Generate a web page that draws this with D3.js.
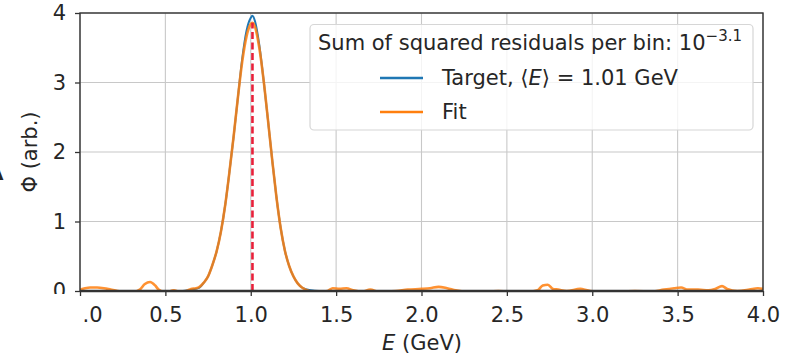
<!DOCTYPE html>
<html>
<head>
<meta charset="utf-8">
<script src="https://cdn.jsdelivr.net/npm/d3@7"></script>
<style>
  html, body { margin: 0; padding: 0; background: #fff; }
  svg { display: block; }
  text { font-family: "DejaVu Sans", sans-serif; fill: #262626; }
</style>
</head>
<body>
<svg id="chart" width="787" height="357"></svg>
<script>
// ---------------- data ----------------
const xTicks = [0, 0.5, 1.0, 1.5, 2.0, 2.5, 3.0, 3.5, 4.0];
const xTickLabels = [".0", "0.5", "1.0", "1.5", "2.0", "2.5", "3.0", "3.5", "4.0"];
const yTicks = [0, 1, 2, 3, 4];
const yTickLabels = ["0", "1", "2", "3", "4"];

const targetE = [0.00, 0.60, 0.65, 0.70, 0.725, 0.75, 0.775, 0.80, 0.825, 0.85, 0.875, 0.90, 0.925, 0.95, 0.975, 1.00, 1.01, 1.025, 1.05, 1.075, 1.10, 1.125, 1.15, 1.175, 1.20, 1.225, 1.25, 1.275, 1.30, 1.35, 1.40, 4.00];
const targetPhi = [0.00, 0.00, 0.02, 0.05, 0.12, 0.21, 0.37, 0.57, 0.85, 1.23, 1.71, 2.23, 2.79, 3.34, 3.74, 3.93, 3.96, 3.88, 3.54, 3.04, 2.48, 1.90, 1.36, 0.91, 0.58, 0.36, 0.21, 0.11, 0.05, 0.01, 0.00, 0.00];

const fitE = [0.00, 0.03, 0.06, 0.10, 0.14, 0.18, 0.22, 0.30, 0.35, 0.38, 0.41, 0.44, 0.46, 0.50, 0.55, 0.58, 0.62, 0.65, 0.68, 0.70, 0.725, 0.75, 0.775, 0.80, 0.825, 0.85, 0.875, 0.90, 0.925, 0.95, 0.975, 1.00, 1.01, 1.025, 1.05, 1.075, 1.10, 1.125, 1.15, 1.175, 1.20, 1.225, 1.25, 1.275, 1.30, 1.33, 1.38, 1.45, 1.48, 1.52, 1.56, 1.60, 1.65, 1.70, 1.75, 1.85, 1.92, 2.00, 2.05, 2.10, 2.15, 2.20, 2.30, 2.45, 2.60, 2.68, 2.71, 2.74, 2.77, 2.80, 2.85, 2.93, 2.97, 3.05, 3.25, 3.35, 3.42, 3.48, 3.52, 3.56, 3.62, 3.68, 3.72, 3.76, 3.79, 3.85, 3.92, 3.97, 4.00];
const fitPhi = [0.02, 0.04, 0.05, 0.05, 0.04, 0.02, 0.00, -0.02, 0.02, 0.10, 0.13, 0.08, 0.02, -0.02, 0.01, -0.01, 0.00, 0.03, 0.04, 0.06, 0.12, 0.21, 0.37, 0.57, 0.85, 1.23, 1.71, 2.23, 2.79, 3.30, 3.66, 3.84, 3.86, 3.80, 3.50, 3.04, 2.48, 1.90, 1.36, 0.91, 0.58, 0.36, 0.21, 0.11, 0.05, 0.01, -0.02, 0.00, 0.04, 0.03, 0.04, 0.01, -0.01, 0.02, -0.01, 0.00, 0.02, 0.03, 0.04, 0.06, 0.04, 0.01, -0.02, 0.00, -0.02, 0.01, 0.08, 0.09, 0.03, 0.02, 0.00, 0.03, 0.01, -0.02, 0.00, -0.01, 0.02, 0.04, 0.05, 0.02, 0.02, 0.01, 0.03, 0.07, 0.03, 0.00, 0.02, 0.04, 0.03];

const meanE = 1.01;
const meanPeak = 3.86;
const legendTitle = "Sum of squared residuals per bin: 10";
const legendExp = "\u22123.1";
const legendLabels = ["Target, \u27E8E\u27E9 = 1.01 GeV", "Fit"];
const seriesColors = ["#1f77b4", "#ff7f0e"];

// ---------------- layout ----------------
const svg = d3.select("#chart");
const L = 80, R = 763, T = 13, B = 291;
const x = d3.scaleLinear().domain([0, 4]).range([L, R]);
const y = d3.scaleLinear().domain([0, 4]).range([B, T]);
const fs = 21;

svg.append("defs").append("clipPath").attr("id", "plotclip")
  .append("rect").attr("x", L).attr("y", T).attr("width", R - L).attr("height", B - T);

// grid
const grid = svg.append("g");
grid.selectAll("line.gx").data(xTicks).enter().append("line")
  .attr("x1", d => x(d)).attr("x2", d => x(d)).attr("y1", T).attr("y2", B)
  .attr("stroke", "#c8c8c8").attr("stroke-width", 1.1);
grid.selectAll("line.gy").data(yTicks).enter().append("line")
  .attr("x1", L).attr("x2", R).attr("y1", d => y(d)).attr("y2", d => y(d))
  .attr("stroke", "#c8c8c8").attr("stroke-width", 1.1);

// lines
const line = d3.line().x(d => x(d[0])).y(d => y(d[1])).curve(d3.curveMonotoneX);
const plot = svg.append("g").attr("clip-path", "url(#plotclip)");
plot.append("path").datum(d3.zip(targetE, targetPhi)).attr("d", line)
  .attr("fill", "none").attr("stroke", seriesColors[0]).attr("stroke-width", 2);
plot.append("path").datum(d3.zip(fitE, fitPhi)).attr("d", line)
  .attr("fill", "none").attr("stroke", seriesColors[1]).attr("stroke-width", 2.6)
  .attr("stroke-opacity", 0.85).attr("stroke-linejoin", "round");
plot.append("line")
  .attr("x1", x(meanE)).attr("x2", x(meanE)).attr("y1", y(0)).attr("y2", y(meanPeak))
  .attr("stroke", "#e8203a").attr("stroke-width", 2.6).attr("stroke-dasharray", "7,3.5");

// axes
const xAxis = d3.axisBottom(x).tickValues(xTicks).tickSize(5).tickPadding(11)
  .tickFormat((d, i) => xTickLabels[i]);
const gx = svg.append("g").attr("transform", `translate(0,${B})`).call(xAxis);
const yAxis = d3.axisLeft(y).tickValues(yTicks).tickSize(5).tickPadding(9)
  .tickFormat((d, i) => yTickLabels[i]);
const gy = svg.append("g").attr("transform", `translate(${L},0)`).call(yAxis);
[gx, gy].forEach(g => {
  g.select(".domain").remove();
  g.selectAll(".tick line").attr("stroke", "#333").attr("stroke-width", 1.3);
  g.selectAll(".tick text").attr("font-size", fs).attr("font-family", "DejaVu Sans").attr("fill", "#262626");
});
gx.selectAll(".tick text").filter((d, i) => i === 0).attr("text-anchor", "start").attr("dx", 2);

// frame
svg.append("rect").attr("x", L).attr("y", T).attr("width", R - L).attr("height", B - T)
  .attr("fill", "none").attr("stroke", "#333").attr("stroke-width", 1.4);
svg.append("line").attr("x1", L).attr("x2", R).attr("y1", B).attr("y2", B)
  .attr("stroke", "#333").attr("stroke-width", 2.6);

// cropped corner (the source picture is cut here)
svg.append("rect").attr("x", 0).attr("y", 294).attr("width", 78).attr("height", 63).attr("fill", "#fff");

// axis labels
const xl = svg.append("text").attr("x", 422).attr("y", 350).attr("text-anchor", "middle").attr("font-size", fs);
xl.append("tspan").attr("font-style", "italic").text("E");
xl.append("tspan").text(" (GeV)");
svg.append("text").attr("transform", `translate(37,${(T + B) / 2}) rotate(-90)`)
  .attr("text-anchor", "middle").attr("font-size", fs).text("\u03A6 (arb.)");
// panel letter, mostly outside the picture
svg.append("text").attr("x", -12).attr("y", 180).attr("font-size", 20).attr("font-weight", "bold").text("A");

// legend
const lg = svg.append("g");
lg.append("rect").attr("x", 310).attr("y", 24.5).attr("width", 443).attr("height", 105.5)
  .attr("rx", 4).attr("fill", "#fff").attr("fill-opacity", 0.8)
  .attr("stroke", "#d6d6d6").attr("stroke-width", 1.2);
const lt = lg.append("text").attr("x", 318).attr("y", 50).attr("font-size", fs);
lt.append("tspan").text(legendTitle);
lt.append("tspan").attr("dy", -9).attr("font-size", 15).text(legendExp);
legendLabels.forEach((lab, i) => {
  const yy = 78 + i * 34;
  lg.append("line").attr("x1", 380).attr("x2", 423).attr("y1", yy).attr("y2", yy)
    .attr("stroke", seriesColors[i]).attr("stroke-width", 2.4);
  const t = lg.append("text").attr("x", 442).attr("y", yy + 7).attr("font-size", fs);
  if (i === 0) {
    t.append("tspan").text("Target, \u27E8");
    t.append("tspan").attr("font-style", "italic").text("E");
    t.append("tspan").text("\u27E9 = 1.01 GeV");
  } else {
    t.text(lab);
  }
});
</script>
</body>
</html>
